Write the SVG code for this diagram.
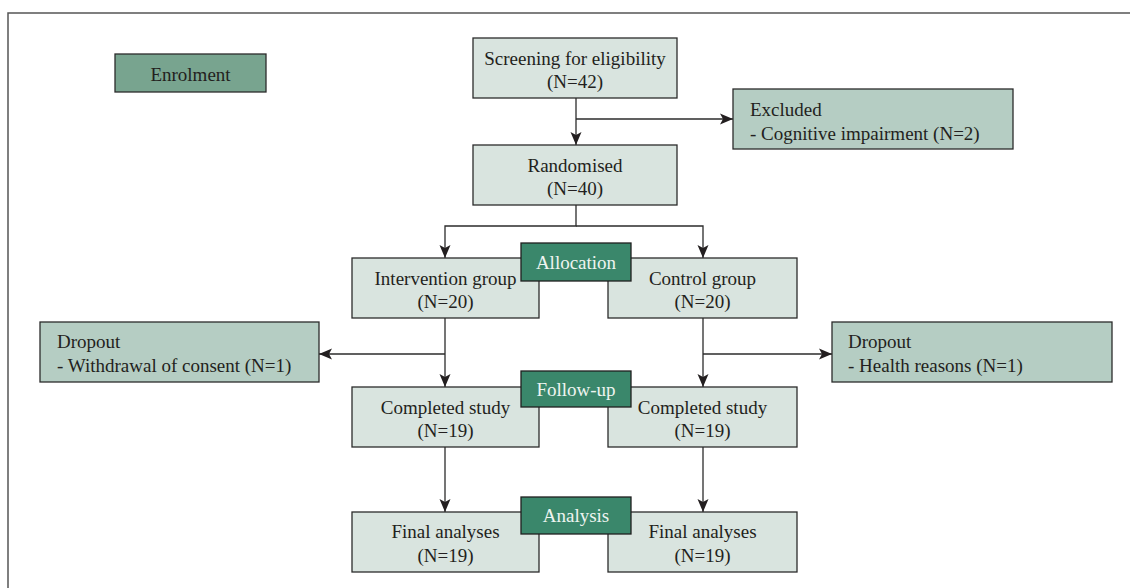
<svg xmlns="http://www.w3.org/2000/svg" width="1130" height="588" viewBox="0 0 1130 588">
<style>
.box{fill:#d9e4df;stroke:#2b2b2b;stroke-width:1.3}
.side{fill:#b5cdc3;stroke:#2b2b2b;stroke-width:1.3}
.enrol{fill:#78a48f;stroke:#2b2b2b;stroke-width:1.3}
.lab{fill:#3a876b;stroke:#1f1f1f;stroke-width:1.3}
text{font-family:"Liberation Serif","Times New Roman",serif;font-size:19px;fill:#231f20}
.c{text-anchor:middle}
.w{fill:#eef4f0}
.conn path{fill:none;stroke:#2b2b2b;stroke-width:1.3}
</style>
<defs>
<marker id="ah" markerUnits="userSpaceOnUse" markerWidth="14" markerHeight="12" refX="13" refY="6" orient="auto">
<path d="M0,0.5 L13,6 L0,11.5 L3,6 z" fill="#231f20"/>
</marker>
</defs>
<path d="M8,588 V13 H1130" fill="none" stroke="#555" stroke-width="1.5"/>
<g id="enrolment"><rect class="enrol" x="115" y="54" width="151" height="38"/><text class="c" x="190.5" y="81">Enrolment</text></g>
<g class="conn" id="connectors">
<path d="M576,98 V145" marker-end="url(#ah)"/>
<path d="M576,119 H733" marker-end="url(#ah)"/>
<path d="M576,205 V226 H445 V258" marker-end="url(#ah)"/>
<path d="M576,226 H703 V258" marker-end="url(#ah)"/>
<path d="M445,318 V387" marker-end="url(#ah)"/>
<path d="M445,354 H319" marker-end="url(#ah)"/>
<path d="M703,318 V387" marker-end="url(#ah)"/>
<path d="M703,354 H832" marker-end="url(#ah)"/>
<path d="M445,447 V512" marker-end="url(#ah)"/>
<path d="M703,447 V512" marker-end="url(#ah)"/>
</g>
<g id="screening"><rect class="box" x="473" y="38" width="204" height="60"/><text class="c" x="575" y="65">Screening for eligibility</text><text class="c" x="575" y="88">(N=42)</text></g>
<g id="excluded"><rect class="side" x="733" y="89" width="280" height="60"/><text x="750" y="116">Excluded</text><text x="750" y="140">- Cognitive impairment (N=2)</text></g>
<g id="randomised"><rect class="box" x="473" y="145" width="204" height="60"/><text class="c" x="575" y="172">Randomised</text><text class="c" x="575" y="195">(N=40)</text></g>
<g id="intervention"><rect class="box" x="352" y="258" width="187" height="60"/><text class="c" x="445.5" y="285">Intervention group</text><text class="c" x="445.5" y="308">(N=20)</text></g>
<g id="control"><rect class="box" x="608" y="258" width="189" height="60"/><text class="c" x="702.5" y="285">Control group</text><text class="c" x="702.5" y="308">(N=20)</text></g>
<g id="dropout-left"><rect class="side" x="40" y="322" width="279" height="60"/><text x="57" y="348">Dropout</text><text x="57" y="372">- Withdrawal of consent (N=1)</text></g>
<g id="dropout-right"><rect class="side" x="832" y="322" width="280" height="60"/><text x="848" y="348">Dropout</text><text x="848" y="372">- Health reasons (N=1)</text></g>
<g id="completed-left"><rect class="box" x="352" y="387" width="187" height="60"/><text class="c" x="445.5" y="414">Completed study</text><text class="c" x="445.5" y="437">(N=19)</text></g>
<g id="completed-right"><rect class="box" x="608" y="387" width="189" height="60"/><text class="c" x="702.5" y="414">Completed study</text><text class="c" x="702.5" y="437">(N=19)</text></g>
<g id="final-left"><rect class="box" x="352" y="512" width="187" height="60"/><text class="c" x="445.5" y="538">Final analyses</text><text class="c" x="445.5" y="562">(N=19)</text></g>
<g id="final-right"><rect class="box" x="608" y="512" width="189" height="60"/><text class="c" x="702.5" y="538">Final analyses</text><text class="c" x="702.5" y="562">(N=19)</text></g>
<g id="allocation"><rect class="lab" x="521" y="243" width="110" height="38"/><text class="c w" x="576" y="269">Allocation</text></g>
<g id="follow-up"><rect class="lab" x="521" y="371" width="110" height="36"/><text class="c w" x="576" y="396">Follow-up</text></g>
<g id="analysis"><rect class="lab" x="521" y="497" width="110" height="37"/><text class="c w" x="576" y="522">Analysis</text></g>
</svg>
